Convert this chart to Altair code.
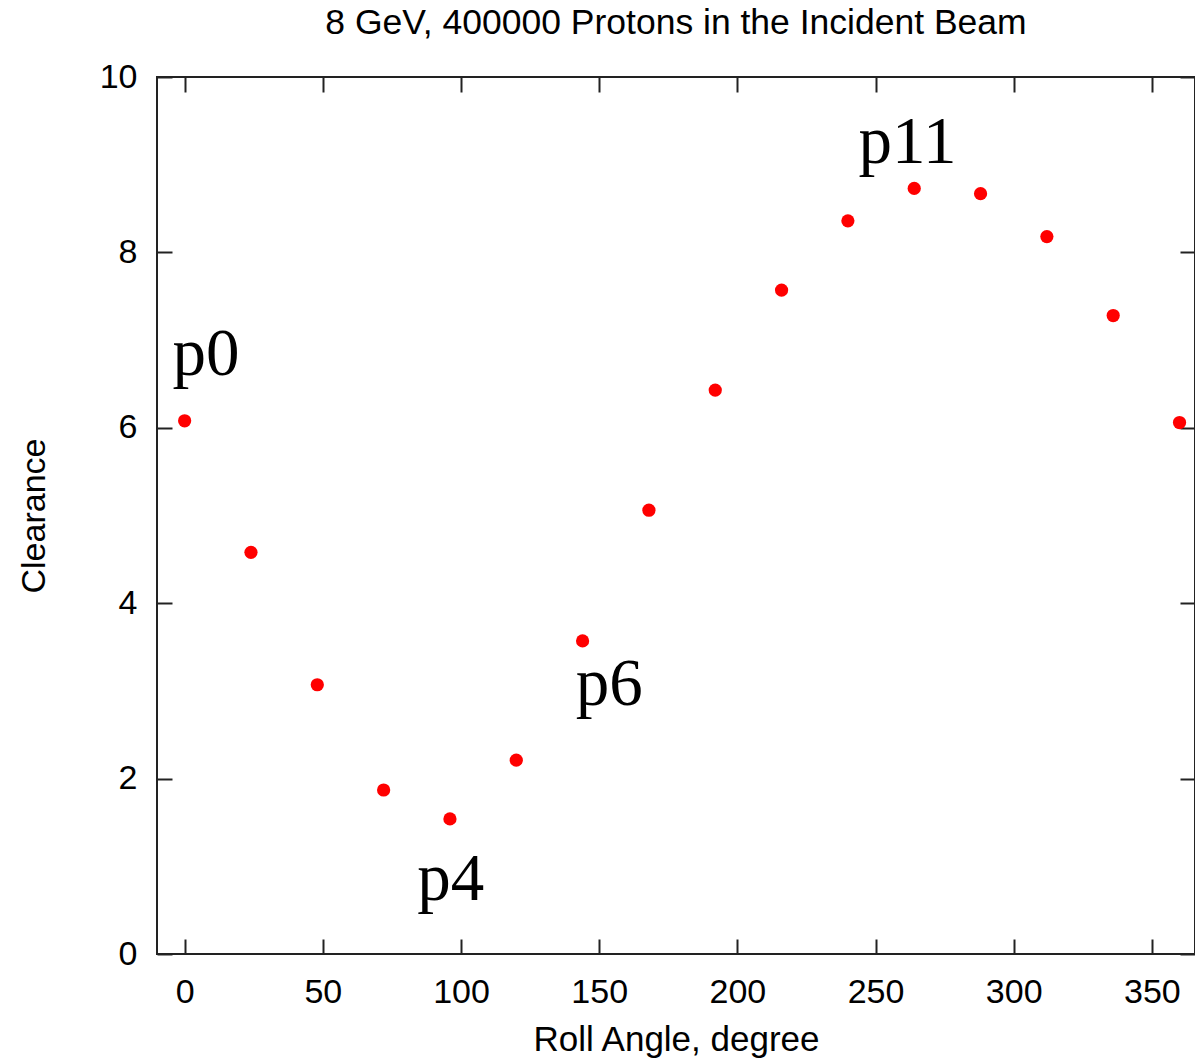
import altair as alt
import pandas as pd

# Data
angles = [0, 24, 48, 72, 96, 120, 144, 168, 192, 216, 240, 264, 288, 312, 336, 360]
clearance = [6.08, 4.58, 3.07, 1.87, 1.54, 2.21, 3.57, 5.06, 6.43, 7.57, 8.36, 8.73, 8.67, 8.18, 7.28, 6.06]

label_text = ["p0", "p4", "p6", "p11"]
label_x = [-4.4, 84.2, 141.5, 243.8]
label_y = [6.6, 0.62, 2.84, 9.02]

x_ticks = [0, 50, 100, 150, 200, 250, 300, 350]
y_ticks = [0, 2, 4, 6, 8, 10]

title_text = "8 GeV, 400000 Protons in the Incident Beam"
x_title = "Roll Angle, degree"
y_title = "Clearance"

pts = pd.DataFrame({"angle": angles, "clearance": clearance})
labs = pd.DataFrame({"label": label_text, "lx": label_x, "ly": label_y})

# the reference crops the plot at the right edge, just past 365
xscale = alt.Scale(domain=[-10, 365.6], nice=False, zero=False)
yscale = alt.Scale(domain=[0, 10], nice=False, zero=False)

TICK = 15

points = alt.Chart(pts).mark_circle(size=175, color="#ff0000", opacity=1).encode(
    x=alt.X("angle:Q", scale=xscale,
            axis=alt.Axis(orient="bottom", values=x_ticks, title=x_title,
                          offset=-TICK, tickSize=TICK, domain=False, grid=False,
                          labelPadding=21, titlePadding=13, titleFontSize=35)),
    y=alt.Y("clearance:Q", scale=yscale,
            axis=alt.Axis(orient="left", values=y_ticks, title=y_title,
                          offset=-TICK, tickSize=TICK, domain=False, grid=False,
                          labelPadding=20, titlePadding=48)),
)

labels = alt.Chart(labs).mark_text(
    font="Liberation Serif", fontSize=67, align="left", baseline="alphabetic", color="black"
).encode(
    x=alt.X("lx:Q", scale=xscale,
            axis=alt.Axis(orient="top", values=x_ticks, title=None, labels=False,
                          offset=-TICK, tickSize=TICK, domain=False, grid=False)),
    y=alt.Y("ly:Q", scale=yscale,
            axis=alt.Axis(orient="right", values=y_ticks, title=None, labels=False,
                          offset=-TICK, tickSize=TICK, domain=False, grid=False)),
    text="label:N",
)

chart = alt.layer(points, labels).resolve_axis(
    x="independent", y="independent"
).properties(
    width=1038,
    height=877,
    autosize=alt.AutoSizeParams(type="none"),
    padding={"left": 157, "top": 77, "right": 0, "bottom": 107},
    title=alt.TitleParams(title_text, anchor="middle", offset=19, font="Liberation Sans",
                          fontSize=35.5, fontWeight="normal", color="black"),
).configure_view(
    stroke="#222222", strokeWidth=2
).configure_axis(
    labelFont="Liberation Sans", labelFontSize=34, labelColor="black",
    titleFont="Liberation Sans", titleFontSize=34, titleColor="black", titleFontWeight="normal",
    tickColor="#222222", tickWidth=2,
)

chart.save("out.html", embed_options={"renderer": "svg", "actions": False})
